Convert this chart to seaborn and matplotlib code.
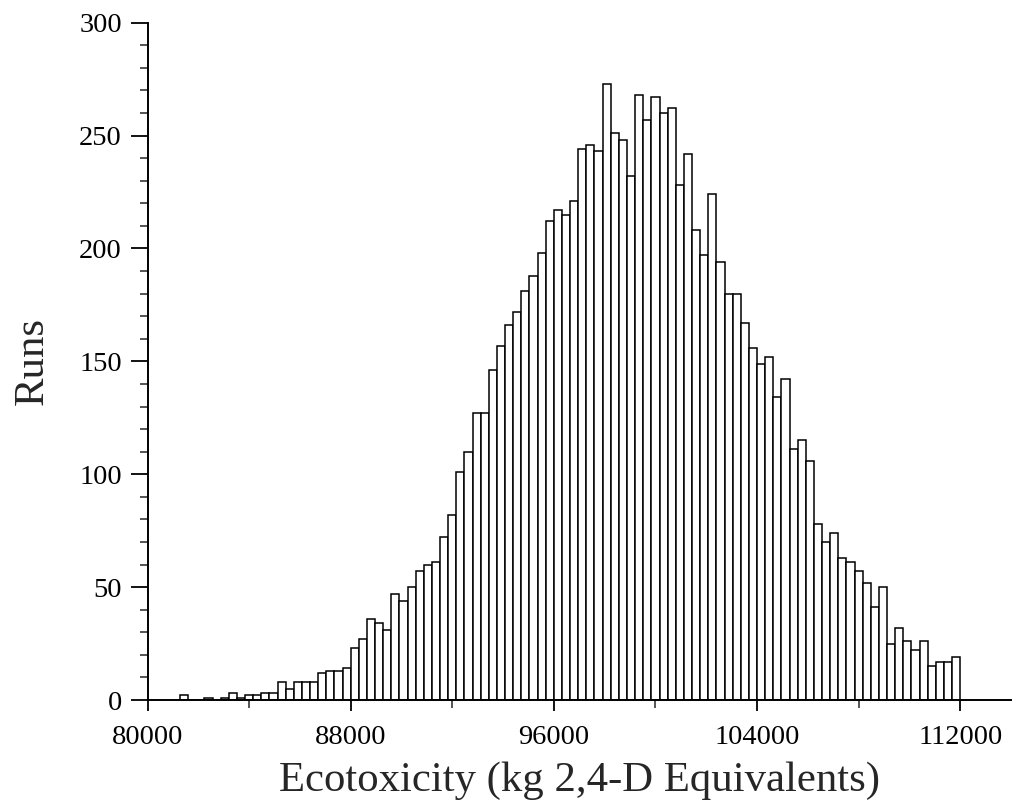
import numpy as np
import pandas as pd
import matplotlib
matplotlib.use("Agg")
import matplotlib.pyplot as plt
import seaborn as sns
from matplotlib.ticker import MultipleLocator

# ---- data ----
bin_start = 81280
bin_width = 320
counts = [2, 0, 0, 1, 0, 1, 3, 1, 2, 2,
          3, 3, 8, 5, 8, 8, 8, 12, 13, 13,
          14, 23, 27, 36, 34, 31, 47, 44, 50, 57,
          60, 61, 72, 82, 101, 110, 127, 127, 146, 157,
          166, 172, 181, 188, 198, 212, 217, 215, 221, 244,
          246, 243, 273, 251, 248, 232, 268, 257, 267, 260,
          262, 228, 242, 208, 197, 224, 194, 180, 180, 167,
          156, 149, 152, 134, 142, 111, 115, 106, 78, 70,
          74, 63, 61, 57, 52, 41, 50, 25, 32, 26,
          22, 26, 15, 17, 17, 19]
x_ticks = [80000, 88000, 96000, 104000, 112000]
y_ticks = [0, 50, 100, 150, 200, 250, 300]
x_label = "Ecotoxicity (kg 2,4-D Equivalents)"
y_label = "Runs"

n_bins = len(counts)
bin_end = bin_start + bin_width * n_bins
centers = bin_start + bin_width * (np.arange(n_bins) + 0.5)
df = pd.DataFrame({"value": centers, "runs": counts})

sns.set_style("ticks")
plt.rcParams["font.family"] = ["Liberation Serif", "DejaVu Serif"]

fig = plt.figure(figsize=(10.25, 8.06), dpi=100)
ax = fig.add_axes([147.5 / 1025, 106 / 806, (1011 - 147.5) / 1025, (700 - 22.7) / 806])

sns.histplot(data=df, x="value", weights="runs", binwidth=bin_width,
             binrange=(bin_start, bin_end), ax=ax,
             color="white", edgecolor="black", linewidth=1.1, alpha=1.0)

ax.set_xlim(80000, 114000)
ax.set_ylim(0, 300)
ax.set_xticks(x_ticks)
ax.set_xticklabels([str(t) for t in x_ticks])
ax.set_yticks(y_ticks)
ax.set_yticklabels([str(t) for t in y_ticks])
ax.xaxis.set_minor_locator(MultipleLocator(4000))
ax.yaxis.set_minor_locator(MultipleLocator(10))

for side in ["top", "right"]:
    ax.spines[side].set_visible(False)
for side in ["left", "bottom"]:
    ax.spines[side].set_linewidth(1.4)
    ax.spines[side].set_color("black")

ax.tick_params(axis="x", which="major", direction="out", length=8, width=1.3,
               labelsize=20.5, pad=10, colors="black")
ax.tick_params(axis="x", which="minor", direction="out", length=6, width=1.1)
ax.tick_params(axis="y", which="major", direction="out", length=12, width=1.3,
               labelsize=20.5, pad=6.5, colors="black")
ax.tick_params(axis="y", which="minor", direction="out", length=6, width=1.1)

ax.set_xlabel(x_label, fontsize=30.8, labelpad=8.5)
ax.set_ylabel(y_label, fontsize=30.8, labelpad=20)
ax.grid(False)

fig.savefig("out.png", dpi=100)
